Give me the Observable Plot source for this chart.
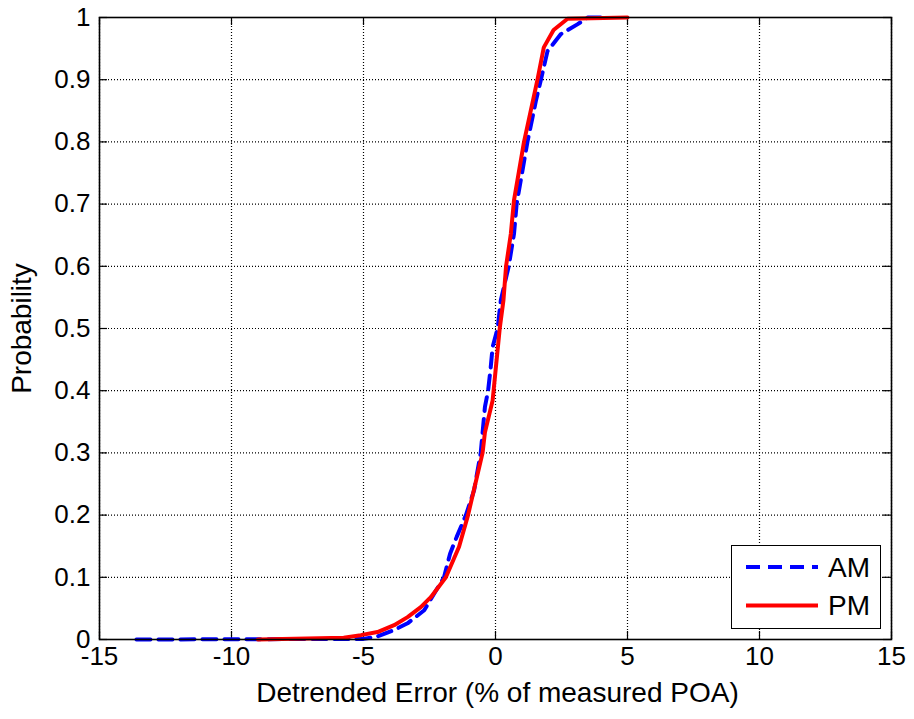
<!DOCTYPE html>
<html><head><meta charset="utf-8">
<script src="https://cdn.jsdelivr.net/npm/d3@7"></script>
<script src="https://cdn.jsdelivr.net/npm/@observablehq/plot@0.6"></script>
<style>
body{margin:0;background:#fff;}
#wrap{position:relative;width:914px;height:719px;font-family:"Liberation Sans",Arial,sans-serif;}
#legend{position:absolute;left:731px;top:545px;width:148px;height:82px;border:1.5px solid #000;background:#fff;}
#legend svg{position:absolute;left:0;top:0;}
</style></head><body><div id="wrap"></div>
<script>
const xTicks = [-15, -10, -5, 0, 5, 10, 15];
const yTicks = [0, 0.1, 0.2, 0.3, 0.4, 0.5, 0.6, 0.7, 0.8, 0.9, 1];
const xLabel = "Detrended Error (% of measured POA)";
const yLabel = "Probability";
const seriesNames = ["AM", "PM"];

const amX = [-13.6, -5.0, -4.47, -3.85, -3.33, -2.70, -1.95, -1.72, -1.47, -1.12, -0.81, -0.56, -0.40, -0.28, -0.18, -0.11, 0.08, 0.20, 0.50, 0.70, 0.80, 1.21, 1.53, 1.72, 1.97, 2.47, 3.10, 3.50, 4.0];
const amY = [0, 0.001, 0.005, 0.015, 0.026, 0.047, 0.10, 0.138, 0.165, 0.20, 0.24, 0.30, 0.374, 0.40, 0.438, 0.47, 0.50, 0.545, 0.60, 0.652, 0.70, 0.80, 0.866, 0.90, 0.946, 0.973, 0.989, 1.0, 1.0];

const pmX = [-9.0, -5.75, -5.1, -4.47, -3.84, -3.33, -2.83, -2.45, -1.88, -1.38, -1.04, -0.49, -0.40, -0.11, 0.16, 0.30, 0.40, 0.58, 0.70, 1.08, 1.59, 1.83, 2.20, 2.73, 5.0];
const pmY = [0, 0.003, 0.007, 0.012, 0.023, 0.036, 0.052, 0.068, 0.10, 0.149, 0.20, 0.30, 0.333, 0.384, 0.50, 0.545, 0.60, 0.652, 0.706, 0.80, 0.90, 0.952, 0.98, 0.998, 1.0];

const am = amX.map((x, i) => ({x, y: amY[i]}));
const pm = pmX.map((x, i) => ({x, y: pmY[i]}));

const font = '"Liberation Sans", Arial, sans-serif';
const grid = {stroke: "black", strokeWidth: 1.2, strokeDasharray: "1,2"};
const tk = {stroke: "black", strokeWidth: 1.2};

const chart = Plot.plot({
  width: 914, height: 719,
  marginLeft: 99, marginRight: 23, marginTop: 17, marginBottom: 80,
  x: {domain: [-15, 15], axis: null},
  y: {domain: [0, 1], axis: null},
  style: {fontFamily: font, background: "white", color: "black"},
  marks: [
    Plot.ruleX(xTicks, {x: d => d, ...grid}),
    Plot.ruleY(yTicks, {y: d => d, ...grid}),
    Plot.ruleX(xTicks, {x: d => d, y1: 0, y2: 0, insetTop: -8, ...tk}),
    Plot.ruleX(xTicks, {x: d => d, y1: 1, y2: 1, insetBottom: -8, ...tk}),
    Plot.ruleY(yTicks, {y: d => d, x1: -15, x2: -15, insetRight: -8, ...tk}),
    Plot.ruleY(yTicks, {y: d => d, x1: 15, x2: 15, insetLeft: -8, ...tk}),
    Plot.line(am, {x: "x", y: "y", stroke: "#0000ff", strokeWidth: 4, strokeDasharray: "14,8"}),
    Plot.line(pm, {x: "x", y: "y", stroke: "#ff0000", strokeWidth: 4}),
    Plot.frame({stroke: "black", strokeWidth: 1.6}),
    Plot.text(xTicks, {x: d => d, text: d => String(d), frameAnchor: "bottom", textAnchor: "middle", dy: 25, fontSize: 26, fill: "black"}),
    Plot.text(yTicks, {y: d => d, text: d => String(d), frameAnchor: "left", textAnchor: "end", dx: -9, fontSize: 26, fill: "black"}),
    Plot.text([xLabel], {text: d => d, frameAnchor: "bottom", textAnchor: "middle", dy: 62, dx: 2, fontSize: 28, fill: "black"}),
    Plot.text([yLabel], {text: d => d, frameAnchor: "left", textAnchor: "middle", rotate: -90, dx: -77, fontSize: 28, fill: "black"})
  ]
});

const wrap = document.getElementById("wrap");
wrap.appendChild(chart);

// legend overlay
const leg = document.createElement("div");
leg.id = "legend";
const ns = "http://www.w3.org/2000/svg";
const lsvg = document.createElementNS(ns, "svg");
lsvg.setAttribute("width", 148); lsvg.setAttribute("height", 82);
const styles = [
  {stroke: "#0000ff", dash: "14,8"},
  {stroke: "#ff0000", dash: null}
];
seriesNames.forEach((name, i) => {
  const cy = 21 + i * 38.5;
  const ln = document.createElementNS(ns, "line");
  ln.setAttribute("x1", 14); ln.setAttribute("x2", 86);
  ln.setAttribute("y1", cy); ln.setAttribute("y2", cy);
  ln.setAttribute("stroke", styles[i].stroke);
  ln.setAttribute("stroke-width", 4);
  if (styles[i].dash) ln.setAttribute("stroke-dasharray", styles[i].dash);
  lsvg.appendChild(ln);
  const tx = document.createElementNS(ns, "text");
  tx.setAttribute("x", 96); tx.setAttribute("y", cy);
  tx.setAttribute("dy", "0.35em");
  tx.setAttribute("font-size", 28);
  tx.setAttribute("font-family", font);
  tx.textContent = name;
  lsvg.appendChild(tx);
});
leg.appendChild(lsvg);
wrap.appendChild(leg);
</script>
</body></html>
